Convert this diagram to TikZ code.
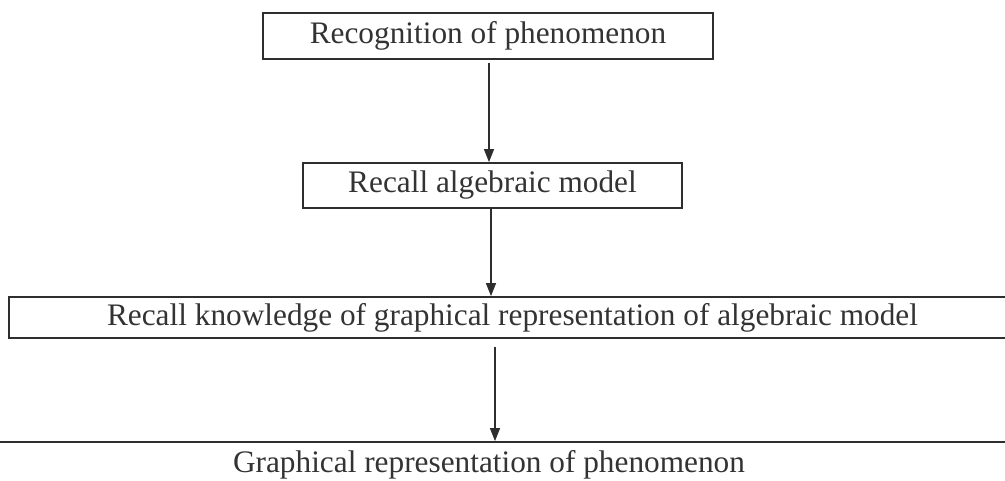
\documentclass[tikz,border=0pt]{standalone}
\usepackage{fontspec}
\setmainfont{Liberation Serif}
\usetikzlibrary{arrows.meta}
\definecolor{ink}{HTML}{2E2E2E}
\definecolor{txt}{HTML}{333333}
\begin{document}
\begin{tikzpicture}[x=1pt,y=1pt,
  box/.style={draw=ink, line width=1.8pt, rectangle, inner sep=0pt,
    font=\fontsize{31.3}{36}\selectfont, text=txt, anchor=center},
  arr/.style={draw=ink, line width=1.3pt, -{Triangle[length=13pt,width=10pt]}}]
\useasboundingbox (0,0) rectangle (1005,480);
\clip (0,0) rectangle (1005,480);
\node[box, minimum width=450, minimum height=46] (b1) at (488,444) {Recognition of phenomenon};
\node[box, minimum width=379, minimum height=45] (b2) at (492.5,294.5) {Recall algebraic model};
\node[box, minimum width=1007, minimum height=41] (b3) at (512.5,162.5) {Recall knowledge of graphical representation of algebraic model};
\node[box, minimum width=1040, minimum height=46] (b4) at (489,15) {Graphical representation of phenomenon};
\coordinate (s1) at (489,417);
\coordinate (s2) at (491,0);
\coordinate (s3) at (495,133);
\draw[arr] (s1) -- (s1 |- b2.north);
\draw[arr] (s2 |- b2.south) -- (s2 |- b3.north);
\draw[arr] (s3) -- (s3 |- b4.north);
\end{tikzpicture}
\end{document}
